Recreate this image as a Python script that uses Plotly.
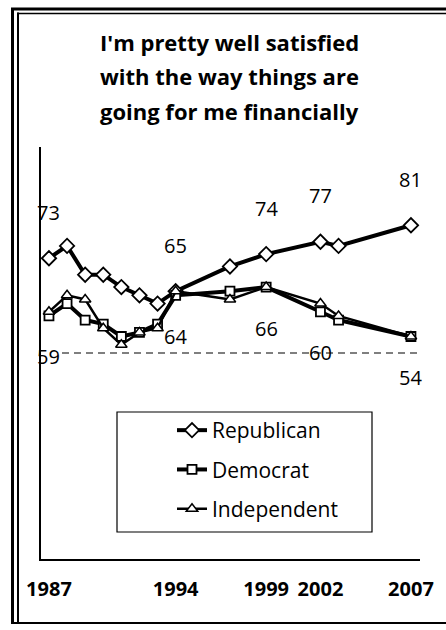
import plotly.graph_objects as go

# ---- data ----
years = [1987, 1988, 1989, 1990, 1991, 1992, 1993, 1994, 1997, 1999, 2002, 2003, 2007]
republican = [73, 76, 69, 69, 66, 64, 62, 65, 71, 74, 77, 76, 81]
democrat = [59, 62, 58, 57, 54, 55, 57, 64, 65, 66, 60, 58, 54]
independent = [60, 64, 63, 56, 52, 55, 56, 65, 63, 66, 62, 59, 54]
label_years = [1987, 1994, 1999, 2002, 2007]
tick_years = [1987, 1994, 1999, 2002, 2007]
reference_value = 50
title_lines = ["I'm pretty well satisfied", "with the way things are", "going for me financially"]

W, H = 446, 630
L, R, T, B = 41, 420, 147, 559  # plot area in pixels


def px(xp):
    return (xp - L) / (R - L)


def py(yp):
    return (B - yp) / (B - T)


FONT = "Open Sans, DejaVu Sans, sans-serif"

fig = go.Figure()
fig.add_trace(go.Scatter(
    x=years, y=republican, name="Republican", mode="lines+markers",
    line=dict(color="black", width=4),
    marker=dict(symbol="diamond", size=11, color="white", line=dict(color="black", width=1.8)),
    legendgroup="r"))
fig.add_trace(go.Scatter(
    x=years, y=democrat, name="Democrat", mode="lines+markers",
    line=dict(color="black", width=4),
    marker=dict(symbol="square", size=9, color="white", line=dict(color="black", width=1.8)),
    legendgroup="d"))
fig.add_trace(go.Scatter(
    x=years, y=independent, name="Independent", mode="lines+markers",
    line=dict(color="black", width=2.5),
    marker=dict(symbol="triangle-up", size=10, color="white", line=dict(color="black", width=1.5)),
    legendgroup="i"))

annotations = []
for yr in label_years:
    i = years.index(yr)
    annotations.append(dict(x=yr, y=republican[i], xref="x", yref="y", text=str(republican[i]),
                            showarrow=False, yshift=46,
                            font=dict(family=FONT, size=20, color="black")))
    annotations.append(dict(x=yr, y=democrat[i], xref="x", yref="y", text=str(democrat[i]),
                            showarrow=False, yshift=-41,
                            font=dict(family=FONT, size=20, color="black")))
for line, yp in zip(title_lines, [42, 76, 111]):
    annotations.append(dict(x=px(229), y=py(yp), xref="paper", yref="paper", text=line,
                            showarrow=False, xanchor="center", yanchor="middle",
                            font=dict(family=FONT, size=22, color="black", weight="bold")))

shapes = [
    # reference dashed line
    dict(type="line", xref="x", yref="y", x0=1987.72, x1=2007.5, y0=reference_value, y1=reference_value,
         line=dict(color="black", width=1.2, dash="7px,5px")),
    # legend box
    dict(type="rect", xref="paper", yref="paper", x0=px(117), x1=px(372), y0=py(532), y1=py(412),
         line=dict(color="black", width=1.2)),
    # frame
    dict(type="line", xref="paper", yref="paper", x0=px(12.5), x1=px(12.5), y0=py(8), y1=py(624),
         line=dict(color="black", width=3)),
    dict(type="line", xref="paper", yref="paper", x0=px(18), x1=px(18), y0=py(12.5), y1=py(622),
         line=dict(color="black", width=2)),
    dict(type="line", xref="paper", yref="paper", x0=px(11), x1=px(446), y0=py(9), y1=py(9),
         line=dict(color="black", width=3)),
    dict(type="line", xref="paper", yref="paper", x0=px(17), x1=px(446), y0=py(13.5), y1=py(13.5),
         line=dict(color="black", width=1.5)),
    dict(type="line", xref="paper", yref="paper", x0=px(11), x1=px(446), y0=py(623), y1=py(623),
         line=dict(color="black", width=2)),
]

fig.update_layout(
    width=W, height=H,
    margin=dict(l=L, r=W - R, t=T, b=H - B, pad=0),
    paper_bgcolor="white", plot_bgcolor="white",
    showlegend=True,
    legend=dict(x=px(172), y=py(410), xanchor="left", yanchor="top",
                bgcolor="rgba(0,0,0,0)", borderwidth=0,
                traceorder="grouped", tracegroupgap=9,
                font=dict(family=FONT, size=21, color="black")),
    annotations=annotations,
    shapes=shapes,
    xaxis=dict(range=[1986.56, 2007.5], showgrid=False, zeroline=False,
               showline=True, linecolor="black", linewidth=1.5,
               tickvals=tick_years, ticktext=[str(t) for t in tick_years],
               ticks="outside", ticklen=11, tickcolor="rgba(0,0,0,0)",
               tickfont=dict(family=FONT, size=20, color="black", weight="bold")),
    yaxis=dict(range=[0, 100], showgrid=False, zeroline=False,
               showline=True, linecolor="black", linewidth=1.5,
               showticklabels=False, ticks=""),
)

fig.write_html("out.html",
               config={"displayModeBar": False},
               post_script="document.body.style.margin='0';document.body.style.overflow='hidden';")
